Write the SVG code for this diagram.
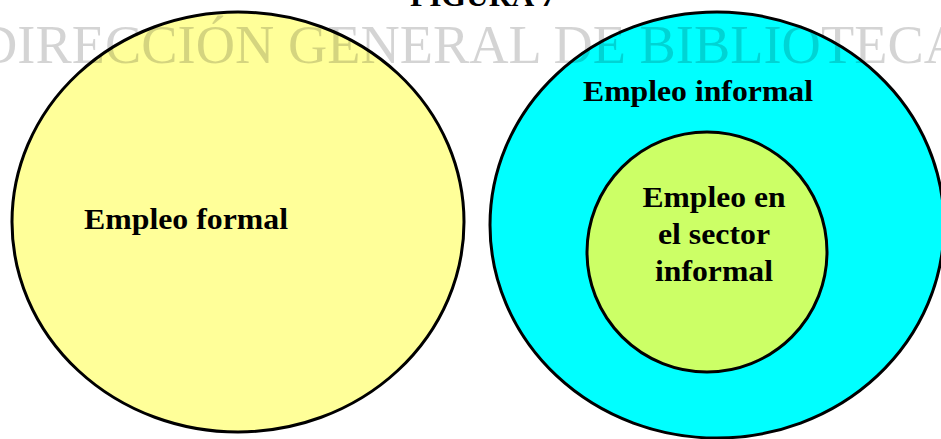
<svg xmlns="http://www.w3.org/2000/svg" width="941" height="439" viewBox="0 0 941 439">
<style>
.c{stroke:#000;stroke-width:3}
.l{font-family:"Liberation Serif",serif;font-weight:bold;font-size:29px;fill:#000;text-anchor:middle}
.w{font-family:"Liberation Serif",serif;font-size:55px;fill:#000;fill-opacity:.17}
</style>
<rect width="941" height="439" fill="#fff"/>
<g id="formal"><ellipse class="c" cx="238" cy="222" rx="226" ry="210" fill="#ffff99"/><text class="l" x="186" y="229" textLength="204" lengthAdjust="spacingAndGlyphs">Empleo formal</text></g>
<g id="informal"><ellipse class="c" cx="717" cy="225" rx="227" ry="213" fill="#00ffff"/><text class="l" x="698" y="101" textLength="230" lengthAdjust="spacingAndGlyphs">Empleo informal</text></g>
<g id="sector"><circle class="c" cx="707" cy="252" r="120" fill="#ccff66"/><text class="l" x="714" y="207" textLength="143" lengthAdjust="spacingAndGlyphs">Empleo en</text><text class="l" x="714" y="244" textLength="112" lengthAdjust="spacingAndGlyphs">el sector</text><text class="l" x="714" y="281" textLength="118" lengthAdjust="spacingAndGlyphs">informal</text></g>
<text class="w" x="-22" y="63" textLength="985" lengthAdjust="spacingAndGlyphs">DIRECCIÓN GENERAL DE BIBLIOTECA</text>
<text class="l" x="483" y="6" textLength="146" lengthAdjust="spacingAndGlyphs">FIGURA 7</text>
</svg>
